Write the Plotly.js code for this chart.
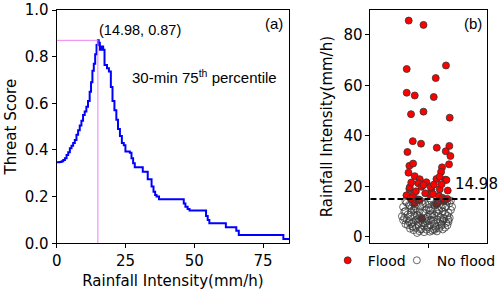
<!DOCTYPE html>
<html>
<head>
<meta charset="utf-8">
<script src="https://cdn.plot.ly/plotly-3.0.1.min.js"></script>
<style>html,body{margin:0;padding:0;background:#fff;}#chart{width:500px;height:290px;}</style>
</head>
<body>
<div id="chart"></div>
<script>
// Panel (a): threat score vs rainfall intensity threshold
const thresholds = [0, 1, 1.8, 2.4, 3.0, 3.6, 4.2, 4.8, 5.4, 6.0, 6.6, 7.2, 7.8, 8.4, 9.0, 9.6, 10.2, 10.8, 11.4, 12.0, 12.5, 13.0, 13.5, 14.0, 14.5, 14.98, 15.3, 15.7, 16.2, 16.9, 17.4, 18.3, 19.0, 19.7, 20.3, 21.0, 21.7, 22.3, 23.0, 23.7, 24.4, 25.0, 26.6, 27.2, 27.8, 28.4, 31.3, 33.1, 34.5, 35.2, 35.8, 36.3, 37.2, 46.2, 46.8, 47.6, 48.3, 54.3, 54.9, 55.5, 56.0, 61.5, 65.3, 66.2, 82.4, 84.5];
const threatScore = [0.347, 0.348, 0.352, 0.357, 0.364, 0.378, 0.390, 0.407, 0.418, 0.430, 0.443, 0.465, 0.485, 0.505, 0.525, 0.550, 0.565, 0.585, 0.610, 0.650, 0.690, 0.740, 0.770, 0.810, 0.850, 0.870, 0.860, 0.830, 0.843, 0.830, 0.764, 0.750, 0.736, 0.670, 0.610, 0.570, 0.530, 0.490, 0.460, 0.430, 0.420, 0.393, 0.388, 0.364, 0.343, 0.326, 0.307, 0.274, 0.243, 0.221, 0.207, 0.200, 0.189, 0.171, 0.157, 0.147, 0.140, 0.117, 0.100, 0.086, 0.086, 0.069, 0.054, 0.036, 0.018, 0.018];
const peakX = 14.98;
const peakY = 0.87;

// Panel (b): event rainfall intensities (x = horizontal jitter position)
const floodX = [0.328, 0.455, 0.311, 0.648, 0.560, 0.311, 0.380, 0.543, 0.348, 0.455, 0.680, 0.363, 0.434, 0.569, 0.677, 0.317, 0.646, 0.686, 0.334, 0.366, 0.614, 0.674, 0.326, 0.606, 0.380, 0.423, 0.566, 0.643, 0.594, 0.334, 0.410, 0.480, 0.437, 0.523, 0.594, 0.663, 0.309, 0.366, 0.408, 0.503, 0.537, 0.588, 0.629, 0.374, 0.566, 0.440, 0.337, 0.517, 0.652, 0.456, 0.390, 0.470, 0.610, 0.350, 0.620, 0.660, 0.345, 0.423, 0.545, 0.575];
const floodY = [85.7, 84.0, 66.5, 67.9, 62.9, 57.1, 56.0, 55.4, 48.6, 49.6, 47.2, 37.9, 36.9, 35.3, 36.0, 33.6, 33.9, 32.0, 28.1, 29.0, 27.5, 28.7, 25.4, 25.7, 24.0, 22.8, 22.9, 22.6, 23.8, 18.9, 21.2, 21.6, 19.8, 18.8, 18.8, 18.3, 16.4, 16.4, 14.8, 16.8, 16.9, 16.2, 14.2, 13.2, 12.9, 7.1, 19.6, 19.8, 22.5, 20.5, 18.0, 17.2, 20.8, 21.5, 15.4, 15.0, 15.2, 14.6, 20.7, 13.2];
const noFloodX = [0.30, 0.36, 0.41, 0.47, 0.52, 0.58, 0.63, 0.68, 0.33, 0.45, 0.55, 0.66,
  0.28, 0.34, 0.39, 0.43, 0.50, 0.54, 0.61, 0.65, 0.70, 0.37, 0.48, 0.59,
  0.30, 0.35, 0.42, 0.46, 0.51, 0.57, 0.62, 0.67, 0.32, 0.40, 0.53, 0.64, 0.69,
  0.27, 0.29, 0.34, 0.38, 0.44, 0.49, 0.55, 0.60, 0.66, 0.31, 0.41, 0.47, 0.57, 0.63, 0.68,
  0.28, 0.33, 0.37, 0.43, 0.48, 0.52, 0.58, 0.62, 0.67, 0.35, 0.45, 0.55, 0.65, 0.30, 0.40, 0.50, 0.60,
  0.32, 0.36, 0.41, 0.46, 0.51, 0.56, 0.61, 0.66, 0.39, 0.49, 0.59, 0.44, 0.54, 0.64, 0.34,
  0.37, 0.42, 0.48, 0.53, 0.57, 0.46, 0.51, 0.40, 0.55, 0.62,
  0.31, 0.38, 0.44, 0.50, 0.56, 0.62, 0.69, 0.29, 0.35, 0.42, 0.52, 0.58, 0.64, 0.33, 0.39, 0.47, 0.53, 0.61, 0.67, 0.36, 0.43, 0.49, 0.56, 0.63, 0.45, 0.51, 0.38, 0.58, 0.41, 0.54];
const noFloodY = [14.2, 13.6, 14.6, 13.1, 14.4, 13.8, 14.7, 13.3, 12.6, 12.9, 12.4, 14.0,
  11.8, 12.3, 11.2, 12.0, 11.6, 12.8, 11.4, 12.1, 11.9, 10.7, 10.9, 10.5,
  10.2, 9.6, 10.0, 9.3, 10.4, 9.8, 10.1, 9.5, 8.8, 8.6, 9.0, 8.9, 10.6,
  8.1, 7.4, 7.9, 8.3, 7.6, 8.0, 8.4, 7.7, 8.2, 6.9, 7.1, 7.3, 6.8, 7.0, 7.5,
  6.6, 6.2, 5.8, 6.4, 6.0, 6.7, 5.6, 6.3, 5.9, 5.2, 5.4, 5.1, 5.5, 5.0, 6.9, 6.5, 6.1,
  4.6, 4.1, 4.8, 4.3, 4.7, 4.0, 4.4, 4.5, 3.5, 3.7, 3.3, 3.1, 3.0, 3.6, 3.2,
  2.6, 2.2, 2.8, 2.4, 2.1, 1.8, 2.0, 1.5, 2.7, 2.9,
  13.5, 12.2, 13.9, 12.7, 13.2, 12.5, 14.3, 9.9, 11.1, 8.2, 11.0, 9.2, 11.6, 5.7, 6.6, 5.3, 7.8, 4.9, 6.8, 3.9, 2.9, 4.5, 3.4, 7.3, 9.7, 8.7, 10.3, 10.8, 5.9, 6.3];
const threshold = 14.98;

const seriesNames = ['Flood', 'No flood'];
const xTitleA = 'Rainfall Intensity(mm/h)';
const yTitleA = 'Threat Score';
const yTitleB = 'Rainfall Intensity(mm/h)';

const axisCommon = {
  showline: true, linecolor: '#000', linewidth: 1, mirror: true,
  ticks: 'outside', ticklen: 4, tickwidth: 1, tickcolor: '#000',
  showgrid: false, zeroline: false, automargin: true,
  tickfont: {family: 'DejaVu Sans', size: 15, color: '#000'}
};

const traces = [
  {x: thresholds, y: threatScore, type: 'scatter', mode: 'lines', line: {color: '#0000ff', width: 2, shape: 'hv'}, xaxis: 'x', yaxis: 'y', showlegend: false, hoverinfo: 'skip'},
  {x: floodX, y: floodY, type: 'scatter', mode: 'markers', name: seriesNames[0], xaxis: 'x2', yaxis: 'y2', legend: 'legend',
   marker: {color: '#ff0000', size: 7, line: {color: '#333', width: 0.8}}},
  {x: noFloodX, y: noFloodY, type: 'scatter', mode: 'markers', name: seriesNames[1], xaxis: 'x2', yaxis: 'y2', legend: 'legend2',
   marker: {symbol: 'circle-open', color: '#3a3a3a', size: 7, line: {width: 0.75}}}
];

const legendCommon = {orientation: 'h', xanchor: 'left', yanchor: 'middle', y: 0.0715,
  font: {family: 'DejaVu Sans', size: 14, color: '#000'}, bgcolor: 'rgba(0,0,0,0)', borderwidth: 0};

const layout = {
  width: 500, height: 290,
  margin: {l: 10, r: 12.7, t: 10, b: 10, autoexpand: false},
  paper_bgcolor: '#fff', plot_bgcolor: '#fff',
  font: {family: 'DejaVu Sans', size: 15, color: '#000'},
  showlegend: true,
  legend: Object.assign({}, legendCommon, {x: 0.666}),
  legend2: Object.assign({}, legendCommon, {x: 0.811}),
  xaxis: Object.assign({}, axisCommon, {domain: [0.0978, 0.5852], range: [0, 84.5], tickvals: [0, 25, 50, 75],
          title: {text: xTitleA, font: {family: 'DejaVu Sans', size: 15}, standoff: 8}}),
  yaxis: Object.assign({}, axisCommon, {domain: [0.136, 1], range: [0, 1.0], tickvals: [0, 0.2, 0.4, 0.6, 0.8, 1.0], tickformat: '.1f',
          title: {text: yTitleA, font: {family: 'DejaVu Sans', size: 15}, standoff: 4}}),
  xaxis2: Object.assign({}, axisCommon, {domain: [0.7557, 1], range: [0, 1], tickvals: [0.5], showticklabels: false, anchor: 'y2'}),
  yaxis2: Object.assign({}, axisCommon, {domain: [0.136, 1], range: [-2.6, 89.9], tickvals: [0, 20, 40, 60, 80], anchor: 'x2',
          title: {text: yTitleB, font: {family: 'DejaVu Sans', size: 15}, standoff: 7}}),
  shapes: [
    {type: 'line', xref: 'x', yref: 'y', x0: peakX, x1: peakX, y0: 0, y1: peakY, line: {color: 'violet', width: 1}},
    {type: 'line', xref: 'x', yref: 'y', x0: 0, x1: peakX, y0: peakY, y1: peakY, line: {color: 'violet', width: 1}},
    {type: 'line', xref: 'x2 domain', yref: 'y2', x0: 0, x1: 1, y0: threshold, y1: threshold, line: {color: '#000', width: 2, dash: '6px,3px'}}
  ],
  annotations: [
    {xref: 'x', yref: 'y', x: peakX, y: peakY, xanchor: 'left', yanchor: 'bottom', xshift: -1, yshift: 0, showarrow: false,
     text: '(' + peakX.toFixed(2) + ', ' + peakY.toFixed(2) + ')', font: {family: 'Liberation Sans', size: 14.5, color: '#000'}},
    {xref: 'x', yref: 'y', x: 53.9, y: 0.714, xanchor: 'center', yanchor: 'middle', showarrow: false,
     text: '30-min 75<sup>th</sup> percentile', font: {family: 'Liberation Sans', size: 15, color: '#000'}},
    {xref: 'x domain', yref: 'y domain', x: 1, y: 1, xanchor: 'right', yanchor: 'top', xshift: -4, yshift: -3, showarrow: false,
     text: '(a)', font: {family: 'Liberation Sans', size: 15, color: '#000'}},
    {xref: 'x2 domain', yref: 'y2 domain', x: 1, y: 1, xanchor: 'right', yanchor: 'top', xshift: -3, yshift: -3, showarrow: false,
     text: '(b)', font: {family: 'Liberation Sans', size: 15, color: '#000'}},
    {xref: 'x2', yref: 'y2', x: 0.708, y: threshold, xanchor: 'left', yanchor: 'bottom', yshift: 4, showarrow: false,
     text: threshold.toFixed(2), font: {family: 'DejaVu Sans', size: 15, color: '#000'}}
  ]
};

Plotly.newPlot('chart', traces, layout, {displayModeBar: false, staticPlot: true});
</script>
</body>
</html>
